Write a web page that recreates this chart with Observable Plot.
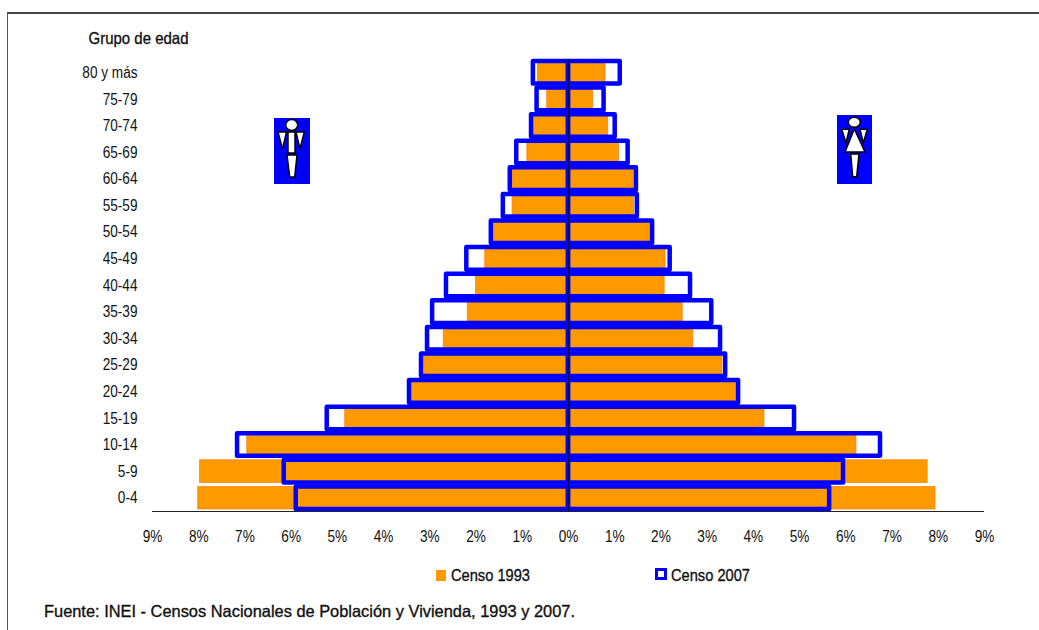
<!DOCTYPE html>
<html><head><meta charset="utf-8">
<script src="https://cdn.jsdelivr.net/npm/d3@7"></script>
<script src="https://cdn.jsdelivr.net/npm/@observablehq/plot@0.6"></script>
<style>
html,body{margin:0;padding:0;background:#fff;overflow:hidden}
#page{position:relative;width:1039px;height:630px;font-family:"Liberation Sans",Arial,sans-serif;color:#111}
#frame{position:absolute;left:7px;top:12px;width:1040px;height:640px;border-left:1.5px solid #555;border-top:2px solid #444;box-sizing:border-box}
#plot{position:absolute;left:0;top:0}
.lbl{position:absolute;white-space:nowrap;transform-origin:left center;line-height:18px;font-size:16.5px;-webkit-text-stroke:.35px #111}
.sw{position:absolute;box-sizing:border-box}
.icon{position:absolute}
</style></head><body>
<div id="page"><div id="frame"></div><div id="plot"></div>
<div class="sw" style="left:436px;top:570px;width:10px;height:11px;background:#ff9900"></div>
<div class="lbl" data-w="79" style="left:451px;top:566px">Censo 1993</div>
<div class="sw" style="left:655px;top:568px;width:12px;height:12px;border:3px solid #0000ff;background:#fff"></div>
<div class="lbl" data-w="79" style="left:671px;top:566px">Censo 2007</div>
<div class="lbl" data-w="531" style="left:44px;top:602px">Fuente: INEI - Censos Nacionales de Población y Vivienda, 1993 y 2007.</div>
<svg class="icon" style="left:274px;top:118px" width="36" height="66" viewBox="0 0 36 66">
<rect width="36" height="66" fill="#0000ff"/>
<g fill="#fff" stroke="#000" stroke-width="1.5">
<ellipse cx="17.7" cy="7" rx="6" ry="5.5"/>
<polygon points="4,14 12.5,14 8.5,31"/><polygon points="22,14 30.3,14 26,31"/>
<rect x="14" y="14" width="7" height="21"/><polygon points="13,37 23,37 20.7,59 15.7,59"/></g></svg>
<svg class="icon" style="left:837px;top:115px" width="35" height="69" viewBox="0 0 35 69">
<rect width="35" height="69" fill="#0000ff"/>
<g fill="#fff" stroke="#000" stroke-width="1.5">
<ellipse cx="17.3" cy="7.3" rx="6" ry="5"/>
<polygon points="4.7,14.3 12.3,14.3 9,28"/><polygon points="23,14.3 30.3,14.3 26.3,28"/>
<polygon points="17.3,14 28,37 8,37"/><polygon points="13.7,39 22,39 19.7,61.7 15.7,61.7"/></g></svg>
</div>
<script>
const groups = ["80 y más","75-79","70-74","65-69","60-64","55-59","50-54","45-49","40-44","35-39","30-34","25-29","20-24","15-19","10-14","5-9","0-4"];
const men1993   = [0.66,0.46,0.76,0.89,1.21,1.21,1.62,1.80,2.00,2.18,2.70,3.12,3.40,4.83,6.95,7.97,8.01];
const women1993 = [0.80,0.53,0.86,1.09,1.41,1.42,1.76,2.10,2.08,2.47,2.70,3.33,3.63,4.24,6.23,7.77,7.94];
const men2007   = [0.76,0.68,0.80,1.12,1.26,1.41,1.67,2.20,2.64,2.94,3.05,3.18,3.44,5.22,7.16,6.15,5.89];
const women2007 = [1.12,0.77,1.01,1.29,1.47,1.49,1.82,2.20,2.64,3.10,3.29,3.40,3.68,4.89,6.75,5.95,5.65];
const xTicks = d3.range(-9,10);
const rows = (a,sign)=>groups.map((g,i)=>({g,v:sign*a[i]}));
const orange={x1:0,x2:"v",y:"g",fill:"#ff9900",stroke:"#ff7a00",strokeWidth:0.7};
const blue={x1:0,x2:"v",y:"g",fill:"none",stroke:"#0000ff",strokeWidth:4.5,strokeLinejoin:"round"};
const chart = Plot.plot({
  width:1039,height:560,marginLeft:152,marginRight:55,marginTop:59,marginBottom:49,
  style:{fontFamily:'"Liberation Sans",Arial,sans-serif',background:"transparent",overflow:"visible"},
  x:{domain:[-9,9]},
  y:{domain:groups,paddingInner:0.15,paddingOuter:0.075,round:false},
  marks:[
    Plot.barX(rows(men1993,-1),orange),
    Plot.barX(rows(women1993,1),orange),
    Plot.barX(rows(men2007,-1),blue),
    Plot.barX(rows(women2007,1),blue),
    Plot.ruleX([0],{stroke:"#000050",strokeWidth:1}),
    Plot.ruleY(["0-4"],{y:d=>d,dy:13.3,x1:-9,x2:9,stroke:"#222",strokeWidth:1.2}),
    Plot.axisX({ticks:xTicks,tickSize:0,tickPadding:19,label:null,tickFormat:d=>Math.abs(d)+"%",fontSize:16,fill:"#111",anchor:"bottom"}),
    Plot.axisY({tickSize:0,tickPadding:15,label:null,fontSize:16,fill:"#111"}),
    Plot.text(["Grupo de edad"],{frameAnchor:"top-left",dx:-64,dy:-27,fontSize:16.5,textAnchor:"start",fill:"#111",stroke:"#111",strokeWidth:0.35})
  ]
});
document.getElementById("plot").appendChild(chart);
// The reference's lettering is condensed and no condensed face is installed: squeeze the real text.
chart.querySelectorAll("text").forEach(t=>{
  const len=t.getComputedTextLength();
  const w=t.textContent==="Grupo de edad"?100:len*0.85;
  t.setAttribute("textLength",w.toFixed(1));
  t.setAttribute("lengthAdjust","spacingAndGlyphs");
});
document.querySelectorAll(".lbl").forEach(el=>{
  el.style.transform=`scaleX(${(+el.dataset.w)/el.getBoundingClientRect().width})`;
});
</script></body></html>
